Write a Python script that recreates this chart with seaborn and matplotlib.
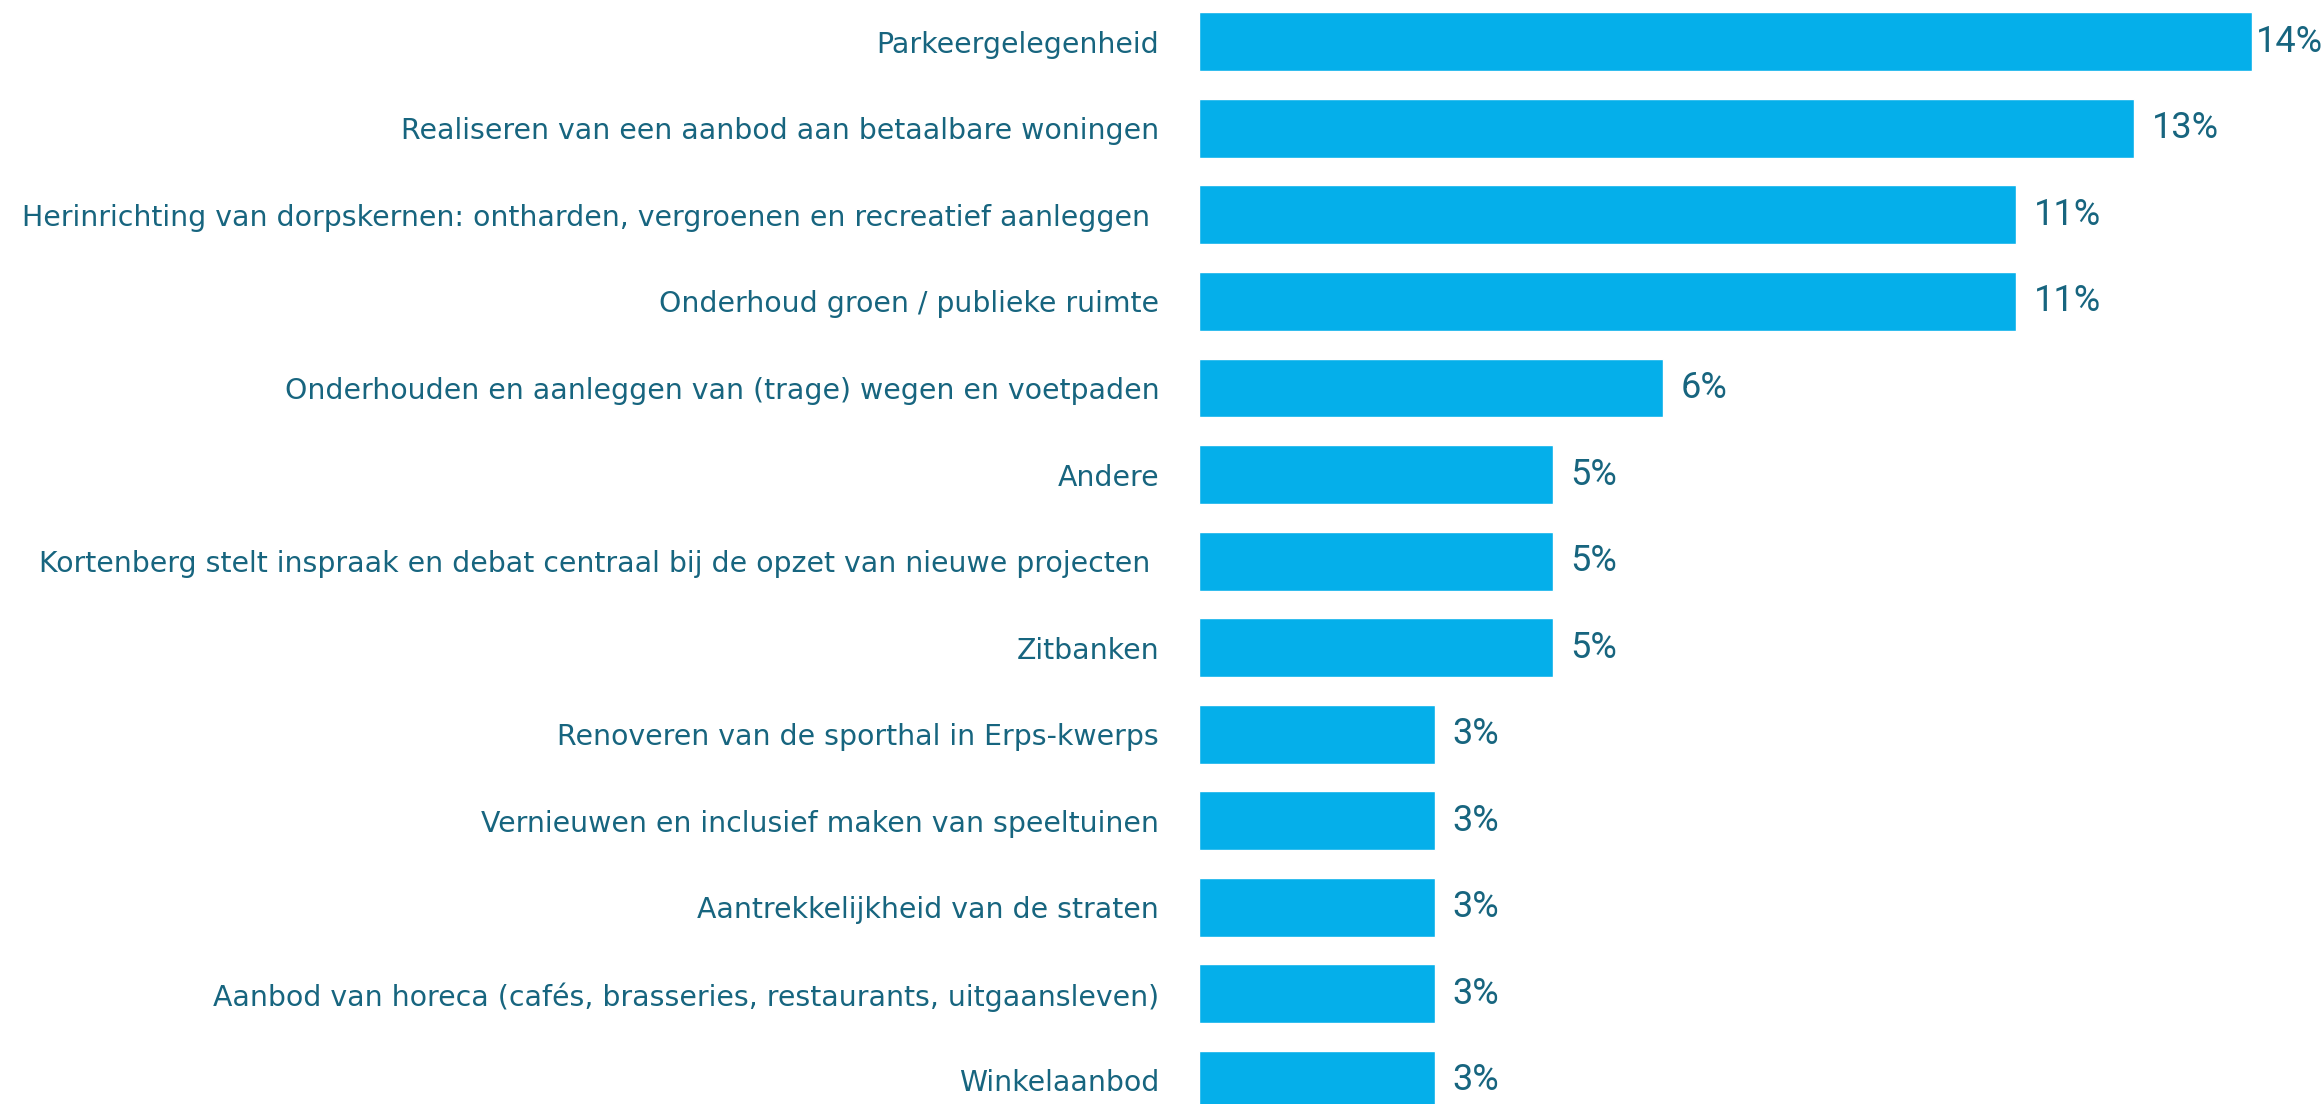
import matplotlib
matplotlib.use("Agg")
import matplotlib.pyplot as plt
import seaborn as sns
import pandas as pd

categories = [
    "Parkeergelegenheid",
    "Realiseren van een aanbod aan betaalbare woningen",
    "Herinrichting van dorpskernen: ontharden, vergroenen en recreatief aanleggen ",
    "Onderhoud groen / publieke ruimte",
    "Onderhouden en aanleggen van (trage) wegen en voetpaden",
    "Andere",
    "Kortenberg stelt inspraak en debat centraal bij de opzet van nieuwe projecten ",
    "Zitbanken",
    "Renoveren van de sporthal in Erps-kwerps",
    "Vernieuwen en inclusief maken van speeltuinen",
    "Aantrekkelijkheid van de straten",
    "Aanbod van horeca (cafés, brasseries, restaurants, uitgaansleven)",
    "Winkelaanbod",
]
share_pct = [14.3, 12.7, 11.1, 11.1, 6.3, 4.8, 4.8, 4.8, 3.2, 3.2, 3.2, 3.2, 3.2]

BAR = "#05AFEA"
TXT = "#17657F"

df = pd.DataFrame({"item": categories, "pct": share_pct})

sns.set_theme(style="white")
plt.rcParams["font.family"] = ["DejaVu Sans"]

fig = plt.figure(figsize=(23.21, 11.04), dpi=100)
ax = fig.add_axes([0.5168, 0.0, 0.4832, 1.0])

sns.barplot(data=df, x="pct", y="item", orient="h", color=BAR,
            width=0.68, saturation=1, ax=ax)

ax.set_xlim(0, 15.24)
ax.set_ylim(12.272, -0.482)
ax.set_xlabel("")
ax.set_ylabel("")
ax.set_xticks([])
sns.despine(ax=ax, left=True, bottom=True)
ax.tick_params(axis="y", length=0, pad=29, labelsize=20.4, labelcolor=TXT)

# value labels next to each bar; pulled in when they would run off the right edge
fig.canvas.draw()
renderer = fig.canvas.get_renderer()
right_px = ax.transData.transform((ax.get_xlim()[1], 0))[0] - 6
for i, v in enumerate(share_pct):
    t = ax.text(v + 0.24, i, f"{v:.0f}%", va="center", ha="left",
                fontsize=26, color=TXT, family=["Roboto", "DejaVu Sans"])
    bb = t.get_window_extent(renderer)
    if bb.x1 > right_px:
        bar_end = ax.transData.transform((v, i))[0]
        shift = max(bb.x1 - right_px, 0)
        new_x0 = max(bb.x0 - shift, bar_end + 4)
        x_data = ax.transData.inverted().transform((new_x0, 0))[0]
        t.set_x(x_data)

fig.savefig("out.png", dpi=100, facecolor="white")
